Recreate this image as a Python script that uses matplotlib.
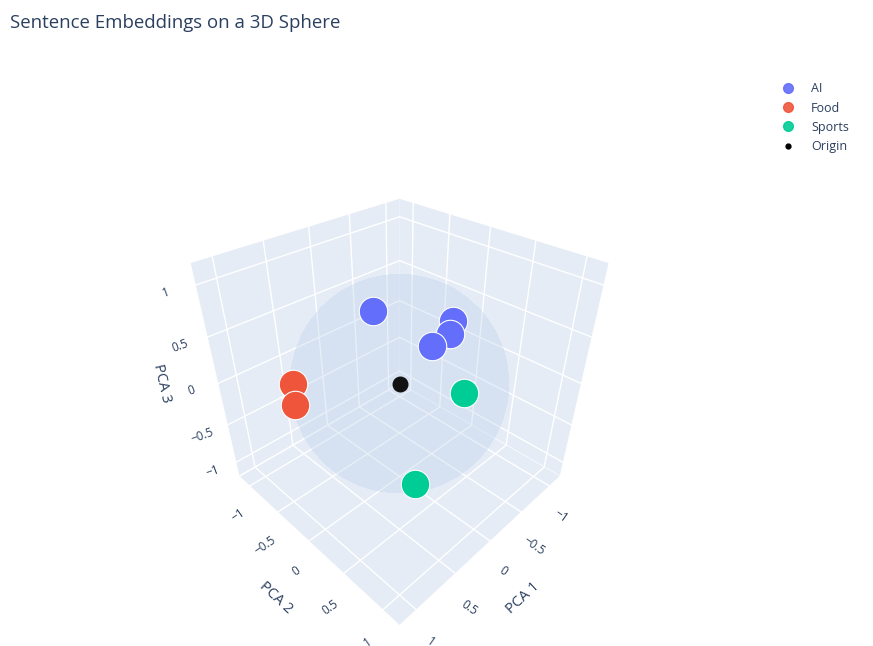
import numpy as np
import matplotlib.pyplot as plt
from matplotlib.lines import Line2D

plt.rcParams['font.family'] = ['Open Sans', 'DejaVu Sans']

# Datos: coordenadas PCA de cada frase
categorias = ['AI', 'Food', 'Sports']
colores = {'AI': '#636efa', 'Food': '#EF553B', 'Sports': '#00cc96'}

pca1 = {'AI': [-0.10, -0.59, -0.52, -0.36],
        'Food': [0.70, 0.77],
        'Sports': [-0.39, 0.28]}
pca2 = {'AI': [-0.45, 0.11, 0.14, 0.07],
        'Food': [-0.70, -0.61],
        'Sports': [0.46, 0.48]}
pca3 = {'AI': [0.55, 0.48, 0.38, 0.29],
        'Food': [0.0, -0.16],
        'Sports': [-0.07, -0.76]}

texto = '#2a3f5f'
fondo = '#E5ECF6'


def transparencia(img, dpi):
    # la esfera se dibuja opaca y luego se aclara entera, sin costuras
    img[..., 3] *= 0.55
    return img, 0, 0


fig = plt.figure(figsize=(8.73, 6.46), dpi=100)
ax = fig.add_axes([0.130, 0.062, 0.642, 0.670], projection='3d')
ax.computed_zorder = False
ax.view_init(elev=35.26, azim=45)
ax.set_proj_type('persp', focal_length=0.24)
ax.set_box_aspect((1, 1, 1))

# Esfera unidad
u = np.linspace(0, 2 * np.pi, 60)
v = np.linspace(0, np.pi, 30)
sx = np.outer(np.cos(u), np.sin(v))
sy = np.outer(np.sin(u), np.sin(v))
sz = np.outer(np.ones_like(u), np.cos(v))
esfera = ax.plot_surface(sx, sy, sz, color='#b4cbe8', shade=False,
                         linewidth=0, edgecolor='none', antialiased=False,
                         zorder=1)
esfera.set_agg_filter(transparencia)
esfera.set_rasterized(True)

z = 2
for cat in categorias:
    ax.scatter(pca1[cat], pca2[cat], pca3[cat], s=420, color=colores[cat],
               edgecolors=(1, 1, 1, 0.5), linewidths=0.8, depthshade=False,
               alpha=1, zorder=z)
    z += 1
ax.scatter([0], [0], [0], s=110, color='#111111', depthshade=False, zorder=z)

lim = (-1.2, 1.2)
ax.set_xlim(lim)
ax.set_ylim(lim)
ax.set_zlim(lim)
ticks = [-1, -0.5, 0, 0.5, 1]
etiquetas = ['\u22121', '\u22120.5', '0', '0.5', '1']
for axis in (ax.xaxis, ax.yaxis, ax.zaxis):
    axis.set_ticks(ticks)
    axis.set_ticklabels(etiquetas)
    axis.set_pane_color(fondo)
    axis.pane.set_edgecolor('white')
    axis.line.set_color('white')
    axis._axinfo['grid']['color'] = 'white'
    axis._axinfo['grid']['linewidth'] = 1.0
    axis._axinfo['tick']['inward_factor'] = 0
    axis._axinfo['tick']['outward_factor'] = 0
ax.tick_params(colors=texto, labelsize=8.5)
ax.tick_params(axis='x', labelrotation=-35)
ax.tick_params(axis='y', labelrotation=35)
ax.tick_params(axis='z', labelrotation=20)
ax.set_xlabel('PCA 1', color=texto, fontsize=10.5, labelpad=8)
ax.set_ylabel('PCA 2', color=texto, fontsize=10.5, labelpad=8)
ax.set_zlabel('PCA 3', color=texto, fontsize=10.5)

fig.text(0.012, 0.965, 'Sentence Embeddings on a 3D Sphere', fontsize=13.4,
         color=texto, ha='left', va='center')

handles = [Line2D([], [], marker='o', linestyle='', color=colores[c],
                  markersize=7, alpha=0.9, label=c) for c in categorias]
handles.append(Line2D([], [], marker='o', linestyle='', color='black',
                      markersize=3.5, label='Origin'))
fig.legend(handles=handles, loc='upper left', bbox_to_anchor=(0.876, 0.89),
           frameon=False, fontsize=9, labelcolor=texto, handletextpad=0.8,
           labelspacing=0.5)

fig.savefig('out.png', dpi=100)
